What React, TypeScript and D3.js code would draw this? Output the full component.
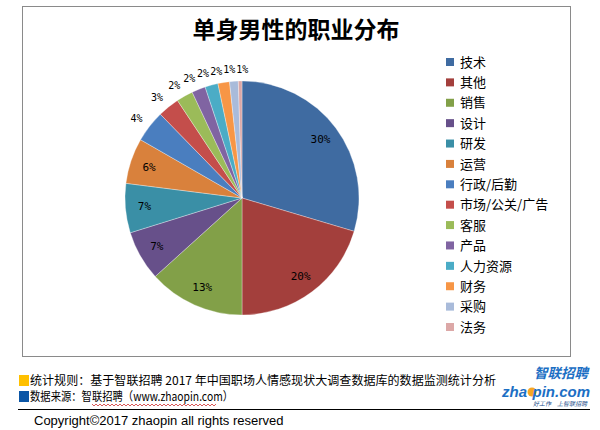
import React from "react";
import * as d3 from "d3";

const categories = ["技术", "其他", "销售", "设计", "研发", "运营", "行政/后勤", "市场/公关/广告", "客服", "产品", "人力资源", "财务", "采购", "法务"];
const values = [29.6, 20.4, 13.3, 6.9, 6.8, 6.3, 4.4, 3.0, 2.3, 1.9, 1.8, 1.6, 1.2, 0.5];
const labels = ["30%", "20%", "13%", "7%", "7%", "6%", "4%", "3%", "2%", "2%", "2%", "2%", "1%", "1%"];
const colors = ["#3F6BA1", "#A33F3C", "#82A048", "#67508A", "#3A8FA6", "#D9813C", "#4A7EBF", "#C44E4B", "#9BBB59", "#8064A2", "#4BACC6", "#F79646", "#A9BBDA", "#DCA8A7"];
const insideCount = 6;

const title = "单身男性的职业分布";
const footer1 = "统计规则：基于智联招聘 2017 年中国职场人情感现状大调查数据库的数据监测统计分析";
const footer2 = "数据来源：智联招聘（www.zhaopin.com）";
const copyright = "Copyright©2017 zhaopin all rights reserved";

export default function App() {
  const W = 600, H = 430;
  const cx = 242, cy = 198, r = 117;
  const pie = d3.pie<number>().sort(null).value((d) => d);
  const arcs = pie(values);
  const arc = d3.arc<d3.PieArcDatum<number>>().innerRadius(0).outerRadius(r);
  const legendY = d3.scalePoint<string>().domain(categories).range([62, 327]);
  const cjk = "'Noto Sans CJK SC', sans-serif";

  // label placement with a simple left-to-right collision pass for outside labels
  const labelW = 12.5;
  let prevEnd = -Infinity;
  const placed = arcs.map((a, i) => {
    const mid = (a.startAngle + a.endAngle) / 2;
    if (i < insideCount) {
      const rr = 98;
      return { x: rr * Math.sin(mid), y: -rr * Math.cos(mid), inside: true };
    }
    const rr = 126;
    let x = rr * Math.sin(mid);
    const y = -rr * Math.cos(mid);
    if (x - labelW < prevEnd) x = prevEnd + labelW + 0.5;
    prevEnd = x;
    return { x, y, inside: false };
  });

  const wavePts: string[] = [];
  for (let i = 0, x = 92; x <= 216; x += 2, i++) wavePts.push(`${x},${i % 2 === 0 ? 404 : 406}`);

  return (
    <svg width={W} height={H} style={{ position: "absolute", left: 0, top: 0, background: "#fff" }}>
      <rect x={0} y={0} width={W} height={H} fill="#fff" />
      <rect x={22.5} y={6.5} width={548} height={350} fill="#fff" stroke="#8a8a8a" strokeWidth={1} />
      <text x={296} y={38} textAnchor="middle" fontFamily={cjk} fontSize={23} fontWeight={700} fill="#000">{title}</text>
      <g transform={`translate(${cx},${cy})`}>
        {arcs.map((a, i) => (
          <path key={i} d={arc(a) || ""} fill={colors[i]} stroke="#fff" strokeWidth={0.4} strokeOpacity={0.8} />
        ))}
        {placed.map((p, i) => (
          <text key={"l" + i} x={p.x} y={p.y} dy={p.inside ? "0.35em" : "0.1em"} textAnchor={p.inside ? "middle" : "end"} fontFamily="'DejaVu Sans Mono', monospace" fontSize={p.inside ? 11 : 10} fill="#000">{labels[i]}</text>
        ))}
      </g>
      {categories.map((c, i) => (
        <g key={"lg" + i}>
          <rect x={446} y={(legendY(c) as number) - 4} width={8} height={8} fill={colors[i]} />
          <text x={460} y={(legendY(c) as number)} dy="0.36em" fontFamily={cjk} fontSize={13} fill="#000">{c}</text>
        </g>
      ))}
      <rect x={19} y={375} width={10} height={11} fill="#FFC000" />
      <text x={30} y={385} fontFamily={cjk} fontSize={12} textLength={466} lengthAdjust="spacingAndGlyphs" fill="#000">{footer1}</text>
      <rect x={19} y={391} width={10} height={11} fill="#0B56A6" />
      <text x={30} y={401} fontFamily={cjk} fontSize={12} textLength={203} lengthAdjust="spacingAndGlyphs" fill="#000">{footer2}</text>
      <polyline points={wavePts.join(" ")} fill="none" stroke="#d03030" strokeWidth={0.8} />
      <line x1={18} y1={409.5} x2={590} y2={409.5} stroke="#000" strokeWidth={1} />
      <text x={34} y={425} fontFamily="'Liberation Sans', sans-serif" fontSize={13} fill="#000">{copyright}</text>
      <text x={588} y={378} textAnchor="end" fontFamily={cjk} fontSize={13.5} fontWeight={700} fontStyle="italic" fill="#1C6FC4">智联招聘</text>
      <text x={527} y={397} textAnchor="end" fontFamily="'Liberation Sans', sans-serif" fontSize={15} fontWeight={700} fontStyle="italic" fill="#1C6FC4">zha</text>
      <circle cx={532} cy={392} r={4.5} fill="#F5A623" />
      <text x={590} y={397} textAnchor="end" fontFamily="'Liberation Sans', sans-serif" fontSize={15} fontWeight={700} fontStyle="italic" fill="#1C6FC4">pin.com</text>
      <text x={587} y={406} textAnchor="end" fontFamily={cjk} fontSize={6} fontStyle="italic" fill="#1C4E8A">好工作　上智联招聘</text>
    </svg>
  );
}
